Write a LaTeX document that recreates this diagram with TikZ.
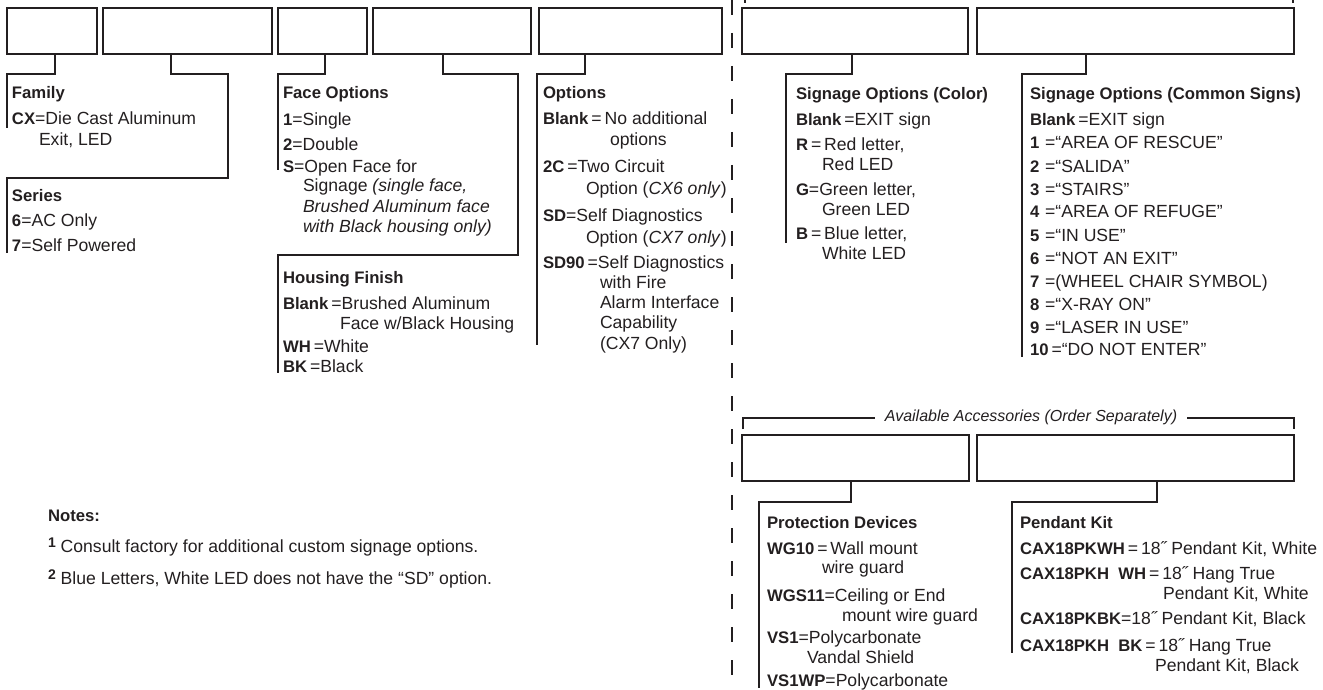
\documentclass[tikz,border=0pt]{standalone}
\usepackage{fontspec}
\setmainfont{Liberation Sans}
\usetikzlibrary{calc}
\definecolor{ink}{HTML}{231F20}
\newcounter{tlc}
\newcommand\kb[1]{{\fontsize{16.7}{20}\selectfont\bfseries #1}}
\newcommand\hd[1]{{\fontsize{16.7}{20}\selectfont\bfseries #1}}
\newcommand\sups[1]{\raisebox{5pt}{\fontsize{14}{14}\selectfont\bfseries #1}}
\newcommand\putl[3]{\stepcounter{tlc}\edef\tlname{t\arabic{tlc}}\node[txt] (\tlname) at (#1,#2) {#3};}
\tikzset{
  txt/.style={anchor=base west, inner sep=0pt, outer sep=0pt, text=ink, font=\fontsize{17.6}{20}\selectfont},
  codebox/.style={draw=ink, line width=2.4pt, inner sep=0pt, outer sep=0pt, minimum height=46pt},
  conn/.style={draw=ink, line width=1.1pt},
  dashline/.style={draw=ink, line width=1.2pt, dash pattern=on 15pt off 18pt},
  acclabel/.style={anchor=base, inner sep=0pt, text=ink, font=\fontsize{16}{20}\selectfont\itshape}
}
\begin{document}
\begin{tikzpicture}[x=1pt,y=-1pt]
\useasboundingbox (0,0) rectangle (1323,690);
% ordering boxes
\node[codebox, minimum width=90pt]  (b1) at (52,31) {};
\node[codebox, minimum width=169pt] (b2) at (187.5,31) {};
\node[codebox, minimum width=89pt]  (b3) at (322.5,31) {};
\node[codebox, minimum width=158pt] (b4) at (452,31) {};
\node[codebox, minimum width=183pt] (b5) at (630.5,31) {};
\node[codebox, minimum width=226pt] (b6) at (855,31) {};
\node[codebox, minimum width=317pt] (b7) at (1135.5,31) {};
\node[codebox, minimum width=227pt] (a1) at (855.5,458) {};
\node[codebox, minimum width=317pt] (a2) at (1135.5,458) {};
% connector corner coordinates
\coordinate (d1) at (55,74);   \coordinate (e1) at (7,128);
\coordinate (d2) at (171,74);  \coordinate (k2) at (228,178); \coordinate (e2) at (7,253);
\coordinate (d3) at (325,74);  \coordinate (e3) at (278,170);
\coordinate (d4) at (443,74);  \coordinate (k4) at (518,255); \coordinate (e4) at (278,373);
\coordinate (d5) at (585,74);  \coordinate (e5) at (537,345);
\coordinate (d6) at (852,74);  \coordinate (e6) at (786,243);
\coordinate (d7) at (1086,74); \coordinate (e7) at (1022,357);
\coordinate (f1) at (851,502); \coordinate (g1) at (759,688);
\coordinate (f2) at (1157,502);\coordinate (g2) at (1012,653);
\draw[conn] (b1.south -| d1) -- (d1) -| (e1);
\draw[conn] (b2.south -| d2) -- (d2) -| (k2) -| (e2);
\draw[conn] (b3.south -| d3) -- (d3) -| (e3);
\draw[conn] (b4.south -| d4) -- (d4) -| (k4) -| (e4);
\draw[conn] (b5.south -| d5) -- (d5) -| (e5);
\draw[conn] (b6.south -| d6) -- (d6) -| (e6);
\draw[conn] (b7.south -| d7) -- (d7) -| (e7);
\draw[conn] (a1.south -| f1) -- (f1) -| (g1);
\draw[conn] (a2.south -| f2) -- (f2) -| (g2);
% top bracket over signage (cut by page edge)
\coordinate (tb1) at (745,3); \coordinate (tb2) at (1293,3);
\draw[conn] (tb1) |- (1019,-5) -| (tb2);
% dashed divider
\coordinate (dv1) at (732,0); \coordinate (dv2) at (732,690);
\draw[dashline] (dv1) -- (dv2);
% accessories bracket
\node[acclabel] (acc) at (1031,421) {Available Accessories (Order Separately)};
\coordinate (al) at (743,429); \coordinate (ar) at (1294,429);
\coordinate (ml) at (875,418); \coordinate (mr) at (1187,418);
\draw[conn] (al) |- (ml);
\draw[conn] (mr) -| (ar);
% Family / Series
\putl{12}{99}{\hd{Family}}
\putl{12}{125}{\kb{CX}=Die Cast Aluminum}
\putl{39}{146}{Exit, LED}
\putl{12}{201}{\hd{Series}}
\putl{12}{226}{\kb{6}=AC Only}
\putl{12}{251}{\kb{7}=Self Powered}
% Face options
\putl{283}{99}{\hd{Face Options}}
\putl{283}{126}{\kb{1}=Single}
\putl{283}{151}{\kb{2}=Double}
\putl{283}{172}{\kb{S}=Open Face for}
\putl{303}{192}{Signage \textit{(single face,}}
\putl{303}{212}{\textit{Brushed Aluminum face}}
\putl{303}{232}{\textit{with Black housing only)}}
% Housing finish
\putl{283}{283}{\hd{Housing Finish}}
\putl{283}{309}{\kb{Blank}\,=Brushed Aluminum}
\putl{340}{329}{Face w/Black Housing}
\putl{283}{352}{\kb{WH}\,=White}
\putl{283}{372}{\kb{BK}\,=Black}
% Options
\putl{543}{99}{\hd{Options}}
\putl{543}{125}{\kb{Blank}\,=\,No additional}
\putl{610}{146}{options}
\putl{543}{173}{\kb{2C}\,=Two Circuit}
\putl{586}{194}{Option (\textit{CX6 only})}
\putl{543}{222}{\kb{SD}=Self Diagnostics}
\putl{586}{243}{Option (\textit{CX7 only})}
\putl{543}{268}{\kb{SD90}\,=Self Diagnostics}
\putl{600}{288}{with Fire}
\putl{600}{308}{Alarm Interface}
\putl{600}{328}{Capability}
\putl{600}{349}{(CX7 Only)}
% Signage colour
\putl{796}{100}{\hd{Signage Options (Color)}}
\putl{796}{126}{\kb{Blank}\,=EXIT sign}
\putl{796}{151}{\kb{R}\,=\,Red letter,}
\putl{822}{171}{Red LED}
\putl{796}{195}{\kb{G}=Green letter,}
\putl{822}{215}{Green LED}
\putl{796}{239}{\kb{B}\,=\,Blue letter,}
\putl{822}{259}{White LED}
% Common signs
\putl{1030}{100}{\hd{Signage Options (Common Signs)}}
\putl{1030}{126}{\kb{Blank}\,=EXIT sign}
\putl{1030}{149}{\kb{1}\,\,=“AREA OF RESCUE”}
\putl{1030}{172}{\kb{2}\,\,=“SALIDA”}
\putl{1030}{195}{\kb{3}\,\,=“STAIRS”}
\putl{1030}{218}{\kb{4}\,\,=“AREA OF REFUGE”}
\putl{1030}{241}{\kb{5}\,\,=“IN USE”}
\putl{1030}{264}{\kb{6}\,\,=“NOT AN EXIT”}
\putl{1030}{287}{\kb{7}\,\,=(WHEEL CHAIR SYMBOL)}
\putl{1030}{310}{\kb{8}\,\,=“X-RAY ON”}
\putl{1030}{333}{\kb{9}\,\,=“LASER IN USE”}
\putl{1030}{355}{\kb{10}\,=“DO NOT ENTER”}
% Protection devices
\putl{767}{528}{\hd{Protection Devices}}
\putl{767}{554}{\kb{WG10}\,=\,Wall mount}
\putl{822}{573}{wire guard}
\putl{767}{601}{\kb{WGS11}=Ceiling or End}
\putl{842}{621}{mount wire guard}
\putl{767}{643}{\kb{VS1}=Polycarbonate}
\putl{807}{663}{Vandal Shield}
\putl{767}{686}{\kb{VS1WP}=Polycarbonate}
% Pendant kit
\putl{1020}{528}{\hd{Pendant Kit}}
\putl{1020}{554}{\kb{CAX18PKWH}\,=\,18˝ Pendant Kit, White}
\putl{1020}{579}{\kb{CAX18PKH\ \ WH}\,=\,18˝ Hang True}
\putl{1163}{599}{Pendant Kit, White}
\putl{1020}{624}{\kb{CAX18PKBK}=18˝ Pendant Kit, Black}
\putl{1020}{651}{\kb{CAX18PKH\ \ BK}\,=\,18˝ Hang True}
\putl{1155}{671}{Pendant Kit, Black}
% Notes
\putl{48}{521}{\hd{Notes:}}
\putl{48}{552}{\sups{1} Consult factory for additional custom signage options.}
\putl{48}{584}{\sups{2} Blue Letters, White LED does not have the “SD” option.}
\end{tikzpicture}
\end{document}
